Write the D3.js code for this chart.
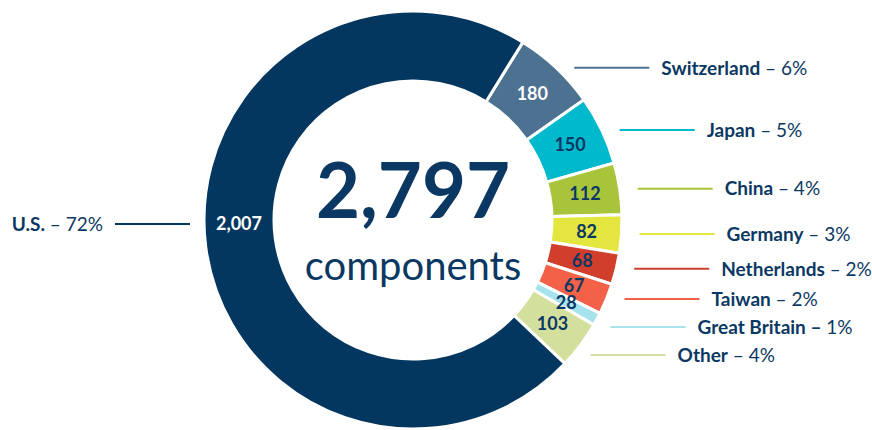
<!DOCTYPE html>
<html>
<head>
<meta charset="utf-8">
<script src="https://cdn.jsdelivr.net/npm/d3@7"></script>
<style>
  body { margin: 0; background: #fff; }
  text { font-family: Lato, "Open Sans", sans-serif; }
</style>
</head>
<body>
<div class="canvas"></div>
<script>
// data
const countries = ["Switzerland", "Japan", "China", "Germany", "Netherlands", "Taiwan", "Great Britain", "Other", "U.S."];
const counts = [180, 150, 112, 82, 68, 67, 28, 103, 2007];
const shares = ["6%", "5%", "4%", "3%", "2%", "2%", "1%", "4%", "72%"];
const colors = ["#4d7191", "#00b9cd", "#a8c43b", "#e4e640", "#d13e2c", "#f26148", "#a6e3ec", "#d3df9d", "#03375f"];
const totalText = "2,797";
const captionText = "components";

const width = 872;
const height = 430;
const cx = 413;
const cy = 220;
const outerR = 209;
const innerR = 139;
const navy = "#0b3862";

const svg = d3
  .select(".canvas")
  .append("svg")
  .attr("width", width)
  .attr("height", height);

const graph = svg.append("g").attr("transform", `translate(${cx}, ${cy})`);

const data = countries.map((c, i) => ({ country: c, count: counts[i], share: shares[i], color: colors[i] }));

// pie starts at the Switzerland slice, top right
const start = (31.7 * Math.PI) / 180;
const pie = d3
  .pie()
  .sort(null)
  .value((d) => d.count)
  .startAngle(start)
  .endAngle(start + 2 * Math.PI);

const arc = d3.arc().innerRadius(innerR).outerRadius(outerR);
const arcs = pie(data);

graph
  .selectAll("path")
  .data(arcs)
  .enter()
  .append("path")
  .attr("d", arc)
  .attr("fill", (d) => d.data.color)
  .attr("stroke", "#fff")
  .attr("stroke-width", 3);

// value labels inside slices
const midR = (innerR + outerR) / 2;
graph
  .selectAll(".val")
  .data(arcs)
  .enter()
  .append("text")
  .attr("class", "val")
  .attr("x", (d) => (d.data.country === "U.S." ? -midR : arc.centroid(d)[0]))
  .attr("y", (d) => (d.data.country === "U.S." ? 4 : arc.centroid(d)[1]))
  .attr("dy", "0.35em")
  .attr("text-anchor", "middle")
  .attr("font-size", 18)
  .attr("font-weight", 700)
  .attr("fill", (d) => (d.data.country === "U.S." || d.data.country === "Switzerland" ? "#fff" : navy))
  .text((d) => d3.format(",")(d.data.count));

// callouts on the right, pushed apart so they don't overlap
const right = arcs.filter((d) => d.data.country !== "U.S.");
let prevY = -Infinity;
right.forEach((d) => {
  const mid = (d.startAngle + d.endAngle) / 2;
  let y = -outerR * Math.cos(mid);
  if (y < prevY + 28) y = prevY + 28;
  prevY = y;
  d.ly = y;
});

right.forEach((d) => {
  const y = d.ly;
  const x0 = Math.sqrt(Math.max(0, outerR * outerR - y * y)) + 18;
  const x1 = x0 + 75;
  graph
    .append("line")
    .attr("x1", x0)
    .attr("x2", x1)
    .attr("y1", y)
    .attr("y2", y)
    .attr("stroke", d.data.color)
    .attr("stroke-width", 2);
  const t = graph
    .append("text")
    .attr("x", x1 + 12)
    .attr("y", y)
    .attr("dy", "0.35em")
    .attr("font-size", 19)
    .attr("fill", navy);
  const boldDash = d.data.country === "Great Britain";
  t.append("tspan").attr("font-weight", 700).text(d.data.country + (boldDash ? " –" : ""));
  t.append("tspan")
    .attr("font-weight", 400)
    .text((boldDash ? " " : " – ") + d.data.share);
});

// U.S. callout on the left
const us = arcs.find((d) => d.data.country === "U.S.");
const usX1 = -outerR - 14;
const usX0 = usX1 - 75;
graph
  .append("line")
  .attr("x1", usX0)
  .attr("x2", usX1)
  .attr("y1", 4)
  .attr("y2", 4)
  .attr("stroke", us.data.color)
  .attr("stroke-width", 2);
const usText = graph
  .append("text")
  .attr("x", usX0 - 12)
  .attr("y", 4)
  .attr("dy", "0.35em")
  .attr("text-anchor", "end")
  .attr("font-size", 19)
  .attr("fill", navy);
usText.append("tspan").attr("font-weight", 700).text(us.data.country);
usText.append("tspan").attr("font-weight", 400).text(" – " + us.data.share);

// center total
graph
  .append("text")
  .attr("x", 0)
  .attr("y", -2)
  .attr("text-anchor", "middle")
  .attr("font-size", 76)
  .attr("font-weight", 700)
  .attr("fill", navy)
  .text(totalText);

graph
  .append("text")
  .attr("x", 0)
  .attr("y", 60)
  .attr("text-anchor", "middle")
  .attr("font-size", 40)
  .attr("fill", navy)
  .text(captionText);
</script>
</body>
</html>
